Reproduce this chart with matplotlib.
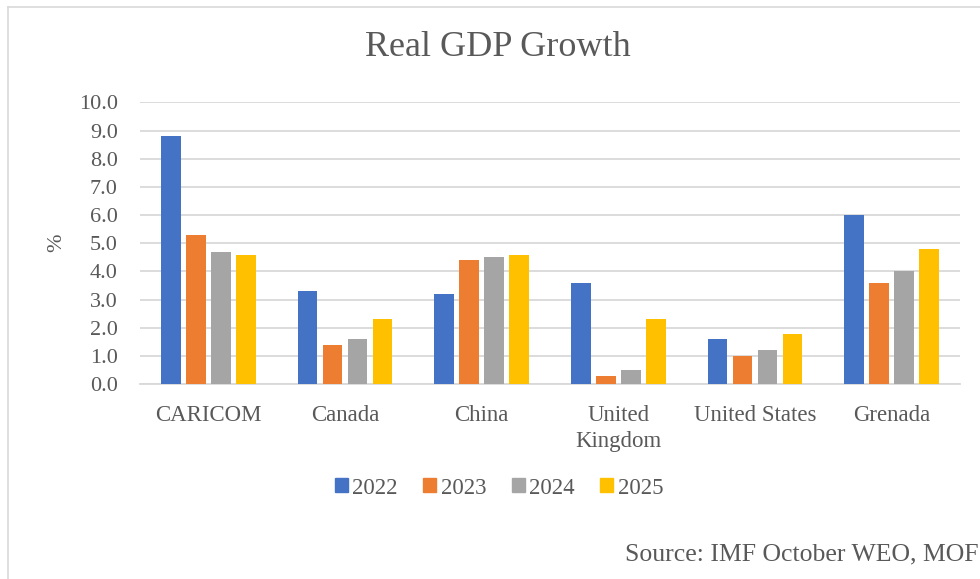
import matplotlib.pyplot as plt
import numpy as np
from matplotlib.patches import Rectangle
from matplotlib.lines import Line2D

countries = ["CARICOM", "Canada", "China", "United\nKingdom", "United States", "Grenada"]
years = ["2022", "2023", "2024", "2025"]
growth_2022 = [8.8, 3.3, 3.2, 3.6, 1.6, 6.0]
growth_2023 = [5.3, 1.4, 4.4, 0.3, 1.0, 3.6]
growth_2024 = [4.7, 1.6, 4.5, 0.5, 1.2, 4.0]
growth_2025 = [4.6, 2.3, 4.6, 2.3, 1.8, 4.8]
colors = ["#4472C4", "#ED7D31", "#A5A5A5", "#FFC000"]

plt.rcParams["font.family"] = ["Liberation Serif", "DejaVu Serif"]
text_color = "#595959"
grid_color = "#D9D9D9"

fig = plt.figure(figsize=(9.8, 5.79), dpi=100)
ax = fig.add_axes([0.1429, 0.3363, 0.8367, 0.487])

series = [growth_2022, growth_2023, growth_2024, growth_2025]
x = np.arange(len(countries))
bar_w = 0.143
stride = 0.183
for i, (vals, col) in enumerate(zip(series, colors)):
    ax.bar(x + (i - 1.5) * stride, vals, width=bar_w, color=col, label=years[i], zorder=3)

ax.set_xlim(-0.5, len(countries) - 0.5)
ax.set_ylim(0, 10)
ax.set_yticks(np.arange(0, 10.5, 1.0))
ax.set_yticklabels([f"{v:.1f}" for v in np.arange(0, 10.5, 1.0)])
ax.set_xticks(x)
ax.set_xticklabels(countries, linespacing=1.3)
ax.tick_params(axis="both", length=0, labelsize=16, colors=text_color)
ax.tick_params(axis="x", pad=15, labelsize=16.5)
ax.tick_params(axis="y", pad=16)
ax.grid(axis="y", color=grid_color, linewidth=1.3, zorder=0)
for side in ["top", "right", "left"]:
    ax.spines[side].set_visible(False)
ax.spines["bottom"].set_color(grid_color)
ax.spines["bottom"].set_linewidth(1.3)

fig.text(57 / 980, 1 - 243 / 579, "%", rotation=90, ha="center", va="center",
         fontsize=16, color=text_color)
fig.text(498 / 980, 1 - 48 / 579, "Real GDP Growth", ha="center", va="center",
         fontsize=26, color=text_color)
fig.text(978 / 980, 1 - 554 / 579, "Source: IMF October WEO, MOF", ha="right", va="center",
         fontsize=18.5, color=text_color)

handles = [Rectangle((0, 0), 1, 1, color=c) for c in colors]
fig.legend(handles, years, loc="center", bbox_to_anchor=(499 / 980, 1 - 488 / 579),
           ncol=4, frameon=False, fontsize=16.5, labelcolor=text_color,
           handlelength=0.57, handleheight=0.57, handletextpad=0.2, columnspacing=1.1)

# chart area border (left and top edges only)
fig.add_artist(Line2D([8 / 980, 8 / 980], [0, 1 - 7 / 579], transform=fig.transFigure,
                      color=grid_color, linewidth=1.2))
fig.add_artist(Line2D([8 / 980, 1], [1 - 7 / 579, 1 - 7 / 579], transform=fig.transFigure,
                      color=grid_color, linewidth=1.2))

fig.savefig("out.png", dpi=100)
